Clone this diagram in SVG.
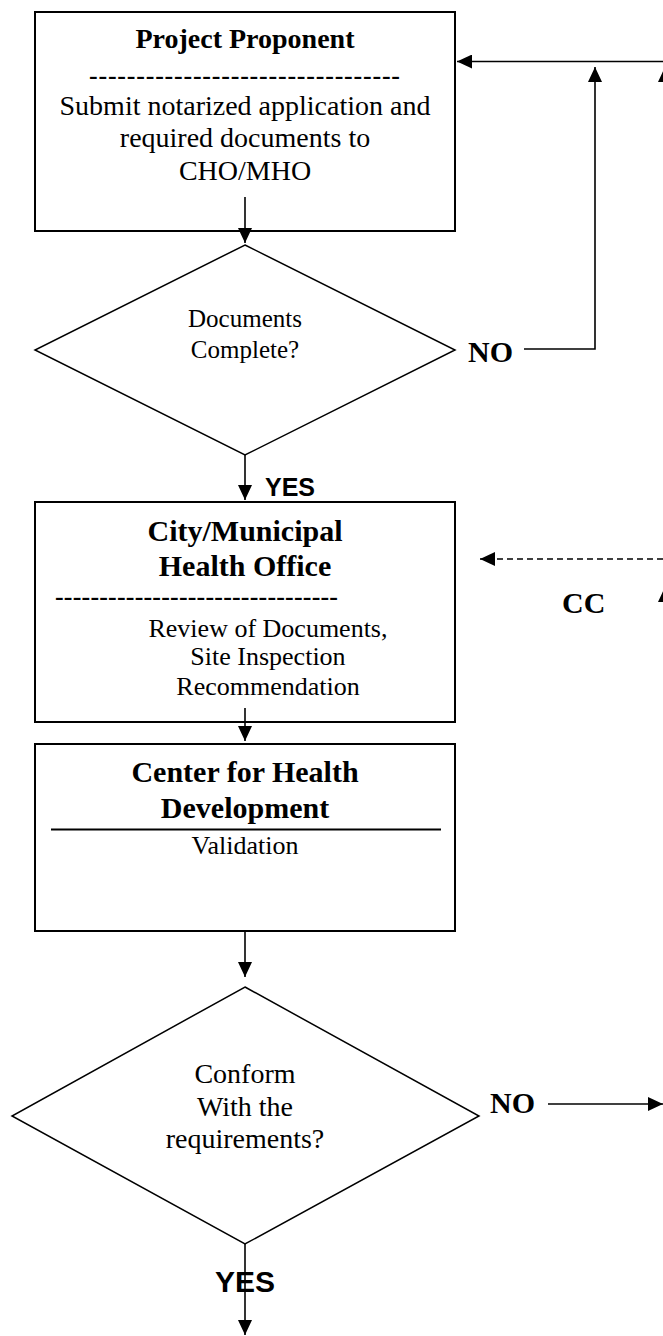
<svg xmlns="http://www.w3.org/2000/svg" width="663" height="1336" viewBox="0 0 663 1336">
<style>
.box{fill:#fff;stroke:#000;stroke-width:2}
.dia{fill:#fff;stroke:#000;stroke-width:1.5}
.t{font-family:"Liberation Serif","Times New Roman",serif;fill:#000}
.b{font-weight:bold}
.s{font-family:"Liberation Sans",Arial,sans-serif;font-weight:bold;fill:#000}
.ln{fill:none;stroke:#000;stroke-width:1.6}
.dash{fill:none;stroke:#000;stroke-width:1.6;stroke-dasharray:6 4}
</style>
<defs>
<marker id="ah" viewBox="0 0 15 14" refX="15" refY="7" markerWidth="15" markerHeight="14" markerUnits="userSpaceOnUse" orient="auto">
<path d="M0,0 L15,7 L0,14 Z" fill="#000"/>
</marker>
</defs>
<rect width="663" height="1336" fill="#fff"/>

<g id="project-proponent">
<rect class="box" x="35" y="12" width="420" height="219"/>
<text class="t b" x="245" y="48" font-size="28" text-anchor="middle">Project Proponent</text>
<text class="t b" x="89" y="83.5" font-size="26" textLength="311" lengthAdjust="spacing">---------------------------------</text>
<text class="t" x="245" y="115" font-size="28" text-anchor="middle">Submit notarized application and</text>
<text class="t" x="245" y="147" font-size="28" text-anchor="middle">required documents to</text>
<text class="t" x="245" y="180" font-size="28" text-anchor="middle">CHO/MHO</text>
</g>

<g id="documents-complete">
<polygon class="dia" points="245,245 455,350 245,455 35,350"/>
<text class="t" x="245" y="327" font-size="25" text-anchor="middle">Documents</text>
<text class="t" x="245" y="358" font-size="25" text-anchor="middle">Complete?</text>
</g>

<g id="cmho">
<rect class="box" x="35" y="502" width="420" height="220"/>
<text class="t b" x="245" y="541" font-size="30" text-anchor="middle">City/Municipal</text>
<text class="t b" x="245" y="576" font-size="30" text-anchor="middle">Health Office</text>
<text class="t b" x="55" y="605" font-size="26" textLength="283" lengthAdjust="spacing">--------------------------------</text>
<text class="t" x="268" y="637" font-size="26" text-anchor="middle">Review of Documents,</text>
<text class="t" x="268" y="665" font-size="26" text-anchor="middle">Site Inspection</text>
<text class="t" x="268" y="695" font-size="26" text-anchor="middle">Recommendation</text>
</g>

<g id="chd">
<rect class="box" x="35" y="744" width="420" height="187"/>
<text class="t b" x="245" y="782" font-size="30" text-anchor="middle">Center for Health</text>
<text class="t b" x="245" y="818" font-size="30" text-anchor="middle">Development</text>
<line x1="51" y1="829.5" x2="441" y2="829.5" stroke="#000" stroke-width="2"/>
<text class="t" x="245" y="854" font-size="26" text-anchor="middle">Validation</text>
</g>

<g id="conform">
<polygon class="dia" points="245,987 479,1116 245,1244 12,1116"/>
<text class="t" x="245" y="1083" font-size="28" text-anchor="middle">Conform</text>
<text class="t" x="245" y="1116" font-size="28" text-anchor="middle">With the</text>
<text class="t" x="245" y="1148" font-size="28" text-anchor="middle">requirements?</text>
</g>

<g id="connectors">
<line class="ln" x1="245" y1="197" x2="245" y2="243" marker-end="url(#ah)"/>
<line class="ln" x1="245" y1="455" x2="245" y2="500" marker-end="url(#ah)"/>
<line class="ln" x1="245" y1="708" x2="245" y2="741" marker-end="url(#ah)"/>
<line class="ln" x1="245" y1="931" x2="245" y2="977" marker-end="url(#ah)"/>
<line class="ln" x1="245" y1="1244" x2="245" y2="1335" marker-end="url(#ah)"/>
<polyline class="ln" points="524,349 595,349 595,67" marker-end="url(#ah)"/>
<line class="ln" x1="670" y1="61.5" x2="457" y2="61.5" marker-end="url(#ah)"/>
<line class="ln" x1="665" y1="110" x2="665" y2="67" marker-end="url(#ah)"/>
<line class="dash" x1="663" y1="559" x2="480" y2="559" marker-end="url(#ah)"/>
<line class="ln" x1="665" y1="640" x2="665" y2="587" marker-end="url(#ah)"/>
<line class="ln" x1="548" y1="1104" x2="663" y2="1104" marker-end="url(#ah)"/>
<text class="t b" x="468" y="362" font-size="30">NO</text>
<text class="s" x="265" y="496" font-size="25">YES</text>
<text class="t b" x="562" y="613" font-size="30">CC</text>
<text class="t b" x="490" y="1113" font-size="30">NO</text>
<text class="s" x="215" y="1292" font-size="30">YES</text>
</g>
</svg>
